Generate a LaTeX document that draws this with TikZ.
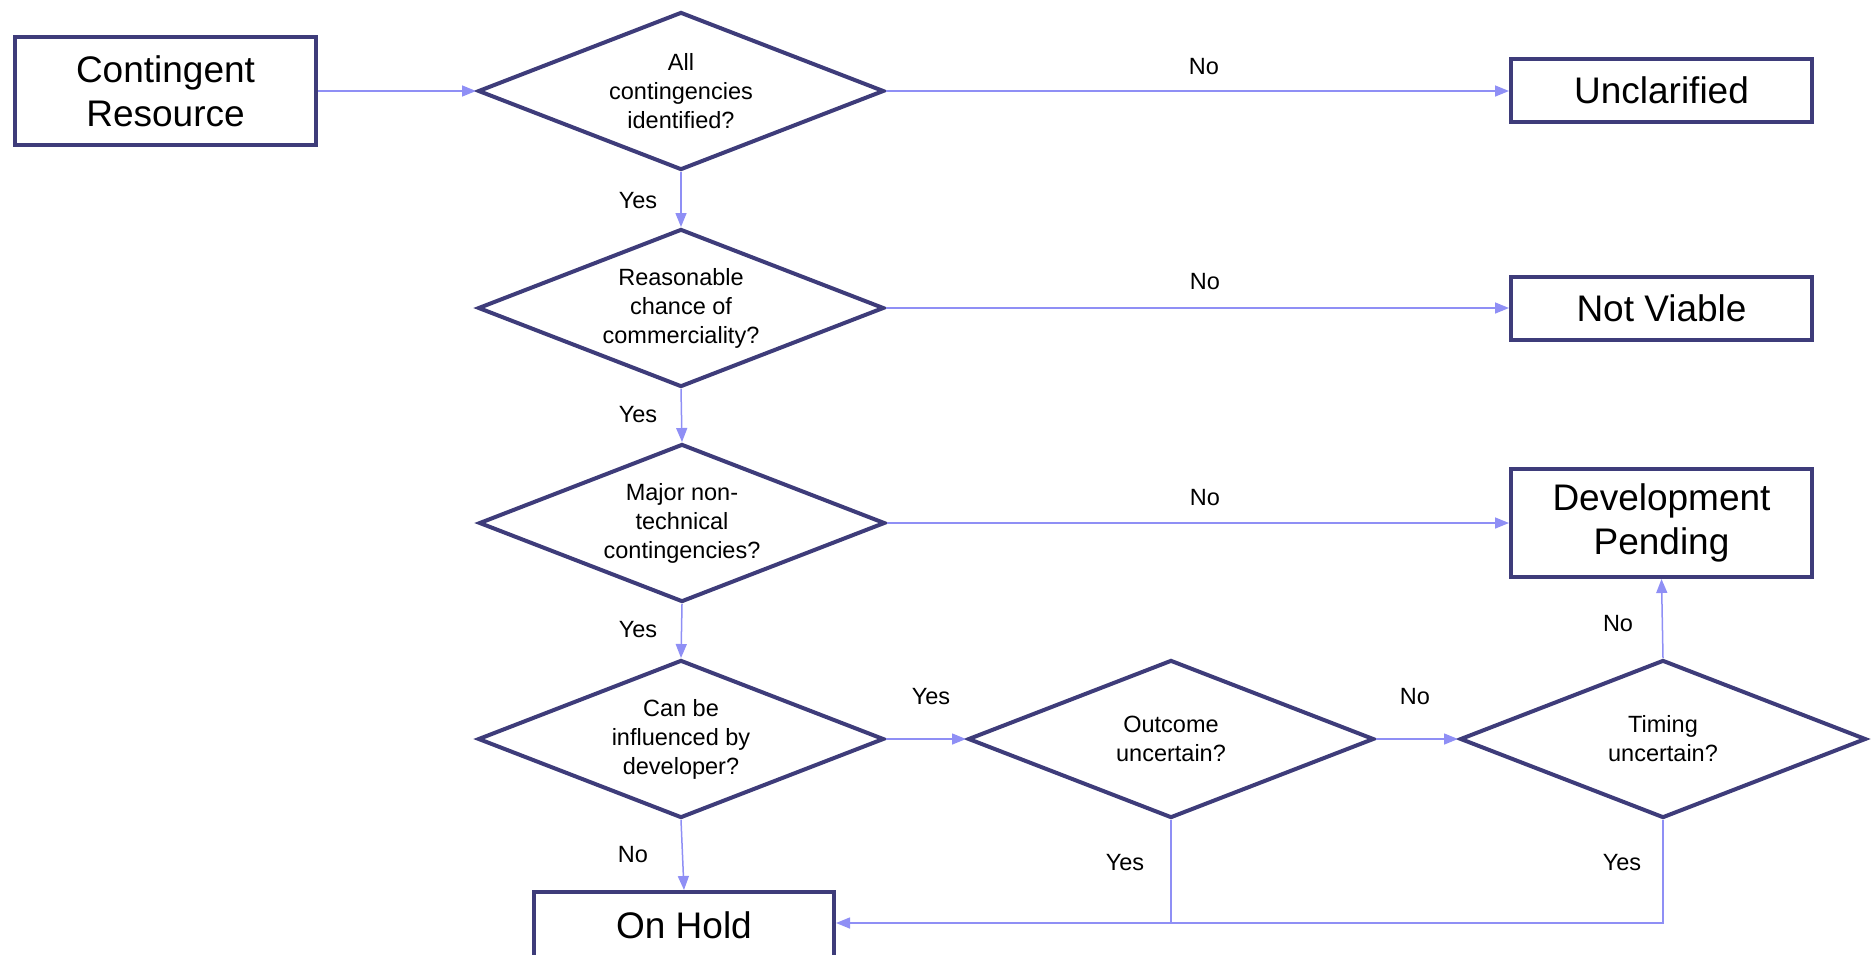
\documentclass[tikz,border=0pt]{standalone}
\usepackage{fontspec}
\setmainfont{Liberation Sans}
\usetikzlibrary{shapes.geometric,arrows.meta}
\definecolor{navy}{RGB}{62,60,122}
\definecolor{flow}{RGB}{143,143,245}
\tikzset{
  box/.style={draw=navy,line width=4pt,fill=white,inner sep=0pt,minimum width=301pt,align=center,
    font=\fontsize{37}{44}\selectfont},
  dec/.style={draw=navy,line width=4pt,diamond,aspect=2.5,inner sep=0pt,minimum width=406pt,minimum height=158pt,align=center,
    font=\fontsize{23.5}{29}\selectfont},
  lab/.style={font=\fontsize{23.5}{28}\selectfont,inner sep=0pt},
  flowline/.style={draw=flow,line width=1.5pt},
  arr/.style={flowline,-{Triangle[length=14pt,width=11pt]}}
}
\begin{document}
\begin{tikzpicture}[x=1pt,y=-1pt]
\useasboundingbox (0,0) rectangle (1876,954);
% boxes
\node[box,minimum height=108pt] (cr) at (165.5,91) {Contingent\\Resource};
\node[box,minimum height=63pt] (unc) at (1661.5,90.5) {Unclarified};
\node[box,minimum height=63pt] (nv) at (1661.5,308.5) {Not Viable};
\node[box,minimum height=108pt] (dev) at (1661.5,523) {Development\\Pending};
\node[box,minimum width=300pt,minimum height=72pt] (hold) at (684,928) {\raisebox{5pt}{On Hold}};
% decisions
\node[dec] (d1) at (681,91) {All\\contingencies\\identified?};
\node[dec] (d2) at (681,308) {Reasonable\\chance of\\commerciality?};
\node[dec] (d3) at (682,523) {Major non-\\technical\\contingencies?};
\node[dec] (d4) at (681,739) {Can be\\influenced by\\developer?};
\node[dec] (d5) at (1171,739) {Outcome\\uncertain?};
\node[dec] (d6) at (1663,739) {Timing\\uncertain?};
% connectors
\draw[arr] (cr.east) -- (d1.west);
\draw[arr] (d1.east) -- (d1.east -| unc.west);
\draw[arr] (d2.east) -- (d2.east -| nv.west);
\draw[arr] (d3.east) -- (d3.east -| dev.west);
\draw[arr] (d1.south) -- (d2.north);
\draw[arr] (d2.south) -- (d3.north);
\draw[arr] (d3.south) -- (d4.north);
\draw[arr] (d4.east) -- (d5.west);
\draw[arr] (d5.east) -- (d6.west);
\draw[arr] (d6.north) -- (dev.south);
\draw[arr] (d4.south) -- (hold.north);
\coordinate (hin) at ([yshift=5pt]hold.east);
\coordinate (j5) at (d5.south |- hin);
\draw[flowline] (d5.south) -- (j5);
\draw[arr] (d6.south) |- (hin);
% labels
\node[lab] (l1) at (1204,67) {No};
\node[lab] (l2) at (1205,282) {No};
\node[lab] (l3) at (1205,498) {No};
\node[lab] (l4) at (638,201) {Yes};
\node[lab] (l5) at (638,415) {Yes};
\node[lab] (l6) at (638,630) {Yes};
\node[lab] (l7) at (931,697) {Yes};
\node[lab] (l8) at (1415,697) {No};
\node[lab] (l9) at (1618,624) {No};
\node[lab] (l10) at (633,855) {No};
\node[lab] (l11) at (1125,863) {Yes};
\node[lab] (l12) at (1622,863) {Yes};
\end{tikzpicture}
\end{document}
